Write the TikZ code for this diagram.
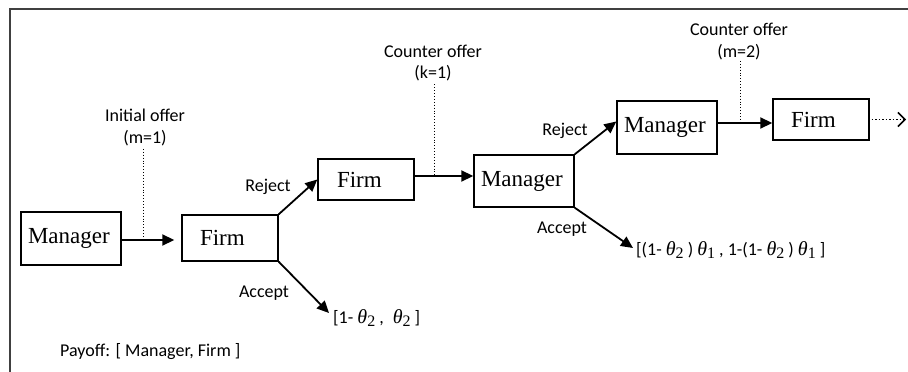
\documentclass[tikz,border=0pt]{standalone}
\usepackage{fontspec}
\setmainfont{Liberation Serif}
\newfontfamily\labfont{Carlito}
\newfontfamily\thfont{Liberation Serif}
\newcommand{\thsub}[1]{{\thfont\itshape\fontsize{20}{20}\selectfont θ}\raisebox{-3.5pt}{\thfont\fontsize{16}{16}\selectfont #1}}
\usetikzlibrary{arrows.meta,calc}
\begin{document}
\begin{tikzpicture}[x=1pt,y=-1pt,
  box/.style={draw, line width=1.4pt, inner xsep=0pt, inner ysep=0pt, align=left,
    font=\fontsize{23}{26}\selectfont},
  lab/.style={font=\labfont\fontsize{18}{21.5}\selectfont, inner sep=0pt, align=center},
  arr/.style={line width=1.8pt, -{Triangle[length=12pt,width=11pt]}},
  dot/.style={line width=0.9pt, dotted},
  frame/.style={line width=1.1pt, draw=black!75}]
\useasboundingbox (0,0) rectangle (908,372);
\draw[frame] (908,9) -- (10,9) -- (10,372);
% boxes
\node[box, text width=100pt, minimum height=53pt] (m1) at (71,238.5) {\hspace*{7pt}Manager};
\node[box, text width=96pt, minimum height=46pt] (f1) at (230,238) {\hspace*{18pt}Firm};
\node[box, text width=96pt, minimum height=41pt] (f2) at (366,179.5) {\hspace*{19pt}Firm};
\node[box, text width=100pt, minimum height=52pt] (m2) at (524,181) {\hspace*{7pt}Manager};
\node[box, text width=100pt, minimum height=53pt] (m3) at (667,127.5) {\hspace*{7pt}Manager};
\node[box, text width=96pt, minimum height=41pt] (f3) at (821,119.5) {\hspace*{18pt}Firm};
% payoffs
\node[lab, anchor=west] (p1) at (333,318) {[1- \thsub{2} ,\enspace \thsub{2} ]};
\node[lab, anchor=west] (p2) at (636,250) {[(1- \thsub{2} ) \thsub{1} , 1-(1- \thsub{2} ) \thsub{1} ]};
\node[lab, anchor=west] (pl) at (60,352) {Payoff: [ Manager, Firm ]};
% offer labels
\node[lab] (io) at (145,127.5) {Initial offer\\(m=1)};
\node[lab] (co1) at (433,63) {Counter offer\\(k=1)};
\node[lab] (co2) at (739,41.5) {Counter offer\\(m=2)};
% branch labels
\node[lab] (r1) at (268,187) {Reject};
\node[lab] (a1) at (264,293) {Accept};
\node[lab] (r2) at (565,131) {Reject};
\node[lab] (a2) at (562,229) {Accept};
% connectors
\draw[arr, shorten >=7pt] (m1.east |- 0,240) coordinate (s1) -- (f1.west |- s1);
\draw[arr] (f1.north east) -- (f2.west);
\draw[arr] (f1.south east) -- ([xshift=-4pt,yshift=5pt]p1.west);
\draw[arr] ([yshift=3.5pt]f2.east) -- ([yshift=5pt]m2.west);
\draw[arr] (m2.north east) -- ([yshift=6pt]m3.west);
\draw[arr] (m2.south east) -- ([xshift=-3pt,yshift=2pt]p2.west);
\draw[arr] ([yshift=4.5pt]m3.east) -- ([yshift=-3.5pt]f3.west);
\coordinate (fe) at (906,119.5);
\draw[line width=1.5pt, dotted, -{Straight Barb[length=7pt,width=14pt,line cap=butt]}] ([xshift=2pt]f3.east) -- (fe);
% dotted markers
\coordinate (d1) at (143,240);
\coordinate (d2) at (434,176);
\coordinate (d3) at (740,123);
\draw[dot] (d1 |- io.south) ++(0,3) -- (d1);
\draw[dot] (d2 |- co1.south) ++(0,3) -- (d2);
\draw[dot] (d3 |- co2.south) ++(0,1) -- (d3);
\end{tikzpicture}
\end{document}
